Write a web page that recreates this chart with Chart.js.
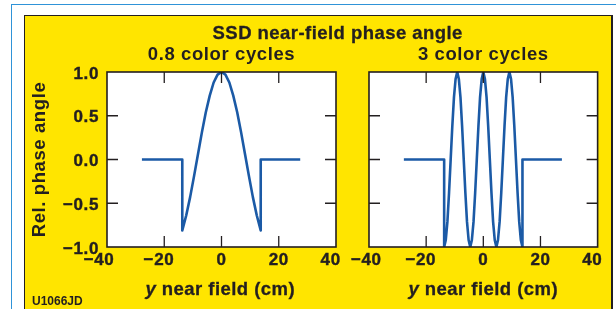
<!DOCTYPE html>
<html><head><meta charset="utf-8">
<script src="https://cdn.jsdelivr.net/npm/chart.js@4.4.1/dist/chart.umd.min.js"></script>
<style>
html,body{margin:0;padding:0;background:#fff;width:616px;height:309px;overflow:hidden;}
body{position:relative;font-family:'Liberation Sans',Arial,Helvetica,sans-serif;color:#231f20;}
#frame{position:absolute;left:11px;top:4px;width:700px;height:400px;border-top:1px solid #2f93d8;border-left:1px solid #2f93d8;}
#panel{position:absolute;left:24px;top:15px;width:586px;height:400px;background:#ffe500;border:1px solid #231f20;border-right:2px solid #231f20;}
canvas{position:absolute;left:0;top:0;}
.t{position:absolute;font-weight:bold;font-size:18.5px;line-height:22px;letter-spacing:0.45px;white-space:nowrap;text-align:center;-webkit-text-stroke:0.3px #231f20;}
.id{position:absolute;left:32px;top:294px;font-weight:bold;font-size:12px;line-height:14px;white-space:nowrap;}
</style></head>
<body>
<div id="frame"></div>
<div id="panel"></div>
<canvas id="c1" width="616" height="309" style="width:616px;height:309px"></canvas>
<canvas id="c2" width="616" height="309" style="width:616px;height:309px"></canvas>
<div class="t" style="left:187.7px;width:300px;top:22px">SSD near-field phase angle</div>
<div class="t" style="left:120.3px;width:200px;top:278px"><i>y</i> near field (cm)</div>
<div class="t" style="left:383.3px;width:200px;top:278px"><i>y</i> near field (cm)</div>
<div class="id">U1066JD</div>
<script>
// ---- data ----
const xTickValues = [-40, -20, 0, 20, 40];
const xTickLabels = ['\u221240', '\u221220', '0', '20', '40'];
const yTickValues = [-1, -0.5, 0, 0.5, 1];
const yTickLabels = ['\u22121.0', '\u22120.5', '0.0', '0.5', '1.0'];

const leftTitle = '0.8 color cycles';
const rightTitle = '3 color cycles';
const yAxisTitle = 'Rel. phase angle';

// 0.8 color cycles
const leftX = [-27.8, -13.7, -13.7, -12.33, -10.96, -9.59, -8.22, -6.85, -5.48, -4.11, -2.74, -1.37, 0,
  1.37, 2.74, 4.11, 5.48, 6.85, 8.22, 9.59, 10.96, 12.33, 13.7, 13.7, 27.5];
const leftY = [0, 0, -0.81, -0.64, -0.43, -0.19, 0.06, 0.31, 0.54, 0.73, 0.88, 0.97, 1,
  0.97, 0.88, 0.73, 0.54, 0.31, 0.06, -0.19, -0.43, -0.64, -0.81, 0, 0];

// 3 color cycles
const rightX = [-27.8, -13.7,
  -13.70, -13.13, -12.56, -11.99, -11.42, -10.85, -10.27, -9.70, -9.13, -8.56, -7.99, -7.42,
  -6.85, -6.28, -5.71, -5.14, -4.57, -4.00, -3.42, -2.85, -2.28, -1.71, -1.14, -0.57,
  0,
  0.57, 1.14, 1.71, 2.28, 2.85, 3.42, 4.00, 4.57, 5.14, 5.71, 6.28, 6.85,
  7.42, 7.99, 8.56, 9.13, 9.70, 10.27, 10.85, 11.42, 11.99, 12.56, 13.13, 13.70,
  13.7, 27.5];
const rightY = [0, 0,
  -1, -0.92, -0.71, -0.38, 0, 0.38, 0.71, 0.92, 1, 0.92, 0.71, 0.38,
  0, -0.38, -0.71, -0.92, -1, -0.92, -0.71, -0.38, 0, 0.38, 0.71, 0.92,
  1,
  0.92, 0.71, 0.38, 0, -0.38, -0.71, -0.92, -1, -0.92, -0.71, -0.38, 0,
  0.38, 0.71, 0.92, 1, 0.92, 0.71, 0.38, 0, -0.38, -0.71, -0.92, -1,
  0, 0];

// ---- styling / rendering ----
const FONT = "'Liberation Sans', Arial, Helvetica, sans-serif";
const INK = '#231f20';
const LINE = '#1b5aa6';
const NB = '\u00a0';

const spacing = {
  id: 'spacing',
  beforeLayout(c) { c.ctx.letterSpacing = '0.6px'; },
  beforeDraw(c) { c.ctx.letterSpacing = '0.6px'; }
};

const plotFrame = {
  id: 'plotFrame',
  beforeDraw(c) {
    const a = c.chartArea, ctx = c.ctx;
    ctx.save();
    ctx.fillStyle = '#ffffff';
    ctx.fillRect(a.left, a.top, a.right - a.left, a.bottom - a.top);
    ctx.restore();
  },
  afterDatasetsDraw(c) {
    const a = c.chartArea, ctx = c.ctx, xs = c.scales.x, ys = c.scales.y;
    const L = 11;
    ctx.save();
    ctx.strokeStyle = INK;
    ctx.lineWidth = 1.3;
    ctx.beginPath();
    xs.ticks.forEach(t => {
      if (t.value <= xs.min || t.value >= xs.max) return;
      const p = xs.getPixelForValue(t.value);
      ctx.moveTo(p, a.top); ctx.lineTo(p, a.top + L);
      ctx.moveTo(p, a.bottom); ctx.lineTo(p, a.bottom - L);
    });
    ys.ticks.forEach(t => {
      if (t.value <= ys.min || t.value >= ys.max) return;
      const p = ys.getPixelForValue(t.value);
      ctx.moveTo(a.left, p); ctx.lineTo(a.left + L, p);
      ctx.moveTo(a.right, p); ctx.lineTo(a.right - L, p);
    });
    ctx.stroke();
    ctx.lineWidth = 1.6;
    ctx.strokeRect(a.left, a.top, a.right - a.left, a.bottom - a.top);
    ctx.restore();
  }
};

// trailing no-break spaces nudge the label so digits sit on the tick (as in the reference)
function xLabel(side, i) {
  const lab = xTickLabels[i];
  let n = lab.charAt(0) === '\u2212' ? 2 : 0;
  if (i === 0) n = side === 'left' ? 3 : 1;
  if (i === xTickLabels.length - 1) n = 2;
  return lab + NB.repeat(n);
}

function makeChart(id, xs, ys, subtitle, side, padL, padR) {
  const showY = side === 'left';
  return new Chart(document.getElementById(id), {
    type: 'line',
    data: {
      datasets: [{
        data: xs.map((x, i) => ({x: x, y: ys[i]})),
        borderColor: LINE,
        borderWidth: 2.6,
        pointRadius: 0,
        fill: false,
        tension: 0,
        borderJoinStyle: 'round',
        borderCapStyle: 'butt'
      }]
    },
    options: {
      responsive: false,
      animation: false,
      devicePixelRatio: 1,
      events: [],
      layout: {padding: {left: padL, right: padR, top: 0, bottom: 0}},
      plugins: {
        legend: {display: false},
        tooltip: {enabled: false},
        title: {
          display: true,
          text: subtitle,
          fullSize: false,
          color: INK,
          font: {family: FONT, size: 18.5, weight: 'bold', lineHeight: 1.2},
          padding: {top: 44.2, bottom: 5.6}
        }
      },
      scales: {
        x: {
          type: 'linear',
          min: -40, max: 40,
          afterBuildTicks: s => { s.ticks = xTickValues.map(v => ({value: v})); },
          afterFit: s => { s.height = 62; },
          grid: {display: false, drawTicks: false},
          border: {display: false},
          ticks: {
            autoSkip: false, maxRotation: 0,
            color: INK, padding: 3,
            textStrokeColor: INK, textStrokeWidth: 0.4,
            font: {family: FONT, size: 17, weight: 'bold', lineHeight: 1.2},
            callback: (v, i) => xLabel(side, i)
          }
        },
        y: {
          type: 'linear',
          min: -1, max: 1,
          afterBuildTicks: s => { s.ticks = yTickValues.map(v => ({value: v})); },
          afterFit: s => { s.width = showY ? 107 : 0; },
          grid: {display: false, drawTicks: false},
          border: {display: false},
          ticks: {
            display: showY,
            color: INK, padding: 8, labelOffset: 2,
            textStrokeColor: INK, textStrokeWidth: 0.4,
            font: {family: FONT, size: 17, weight: 'bold', lineHeight: 1.2},
            callback: (v, i) => yTickLabels[i]
          },
          title: {
            display: showY,
            text: yAxisTitle,
            color: INK,
            font: {family: FONT, size: 18.5, weight: 'bold', lineHeight: 1.2},
            padding: {top: 28.4, bottom: 0}
          }
        }
      }
    },
    plugins: [spacing, plotFrame]
  });
}

makeChart('c1', leftX, leftY, leftTitle, 'left', 0, 280);
makeChart('c2', rightX, rightY, rightTitle, 'right', 369, 17);
</script>
</body></html>
